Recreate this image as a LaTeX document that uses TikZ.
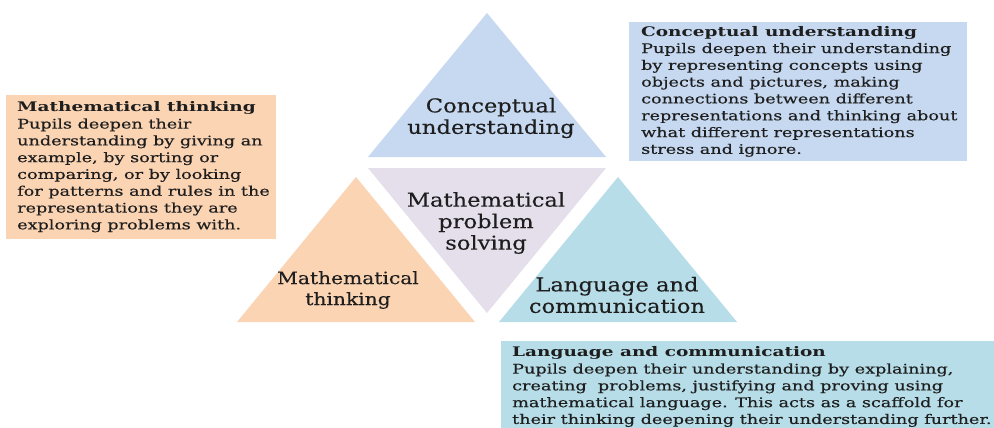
\documentclass[tikz,border=0pt]{standalone}
\usepackage{fontspec}
\setmainfont{DejaVu Serif}
\newfontfamily\boxfont[FakeStretch=1.335,FakeBold=0.35,BoldFeatures={FakeStretch=1.40,FakeBold=0}]{DejaVu Serif}
\newfontfamily\trifont[FakeStretch=1.19,FakeBold=0.3]{DejaVu Serif}
\definecolor{cblue}{HTML}{C6D9F1}
\definecolor{corange}{HTML}{FBD4B4}
\definecolor{cpurple}{HTML}{E5DFEC}
\definecolor{cteal}{HTML}{B6DDE8}
\definecolor{ctext}{HTML}{1E1E1E}
\begin{document}
\begin{tikzpicture}[x=1pt,y=-1pt,
  trilabel/.style={font=\trifont\fontsize{19}{21.5}\selectfont, align=center, text=ctext, inner sep=0pt},
  trismall/.style={trilabel, font=\trifont\fontsize{17}{21}\selectfont},
  desc/.style={font=\boxfont\fontsize{13.2}{16.8}\selectfont, align=left, anchor=north west, inner sep=0pt, text=ctext}]
\useasboundingbox (0,0) rectangle (994,428);
\fill[white] (0,0) rectangle (994,428);
% triangles
\fill[cblue]   (487,13)  -- (368,157) -- (606,157) -- cycle;
\fill[cpurple] (368,168) -- (606,168) -- (487,313) -- cycle;
\fill[corange] (356,177) -- (237,322) -- (475,322) -- cycle;
\fill[cteal]   (618,177) -- (499,322) -- (737,322) -- cycle;
% description boxes
\fill[corange] (6,95) rectangle (276,239);
\fill[cblue]   (629,22) rectangle (967,161);
\fill[cteal]   (501,341) rectangle (994,428);
% triangle labels
\node[trilabel] (cu) at (491,118) {Conceptual\\understanding};
\node[trilabel] (ps) at (486,223) {Mathematical\\problem\\solving};
\node[trismall] (mt) at (348,290) {Mathematical\\thinking};
\node[trilabel] (lc) at (617,295) {Language and\\communication};
% descriptions
\node[desc] (dmt) at (17,101.5) {\textbf{Mathematical thinking}\\Pupils deepen their\\understanding by giving an\\example, by sorting or\\comparing, or by looking\\for patterns and rules in the\\representations they are\\exploring problems with.};
\node[desc] (dcu) at (641,26) {\textbf{Conceptual understanding}\\Pupils deepen their understanding\\by representing concepts using\\objects and pictures, making\\connections between different\\representations and thinking about\\what different representations\\stress and ignore.};
\node[desc] (dlc) at (512,346.5) {\textbf{Language and communication}\\Pupils deepen their understanding by explaining,\\creating\ \ problems, justifying and proving using\\mathematical language. This acts as a scaffold for\\their thinking deepening their understanding further.};
\end{tikzpicture}
\end{document}
